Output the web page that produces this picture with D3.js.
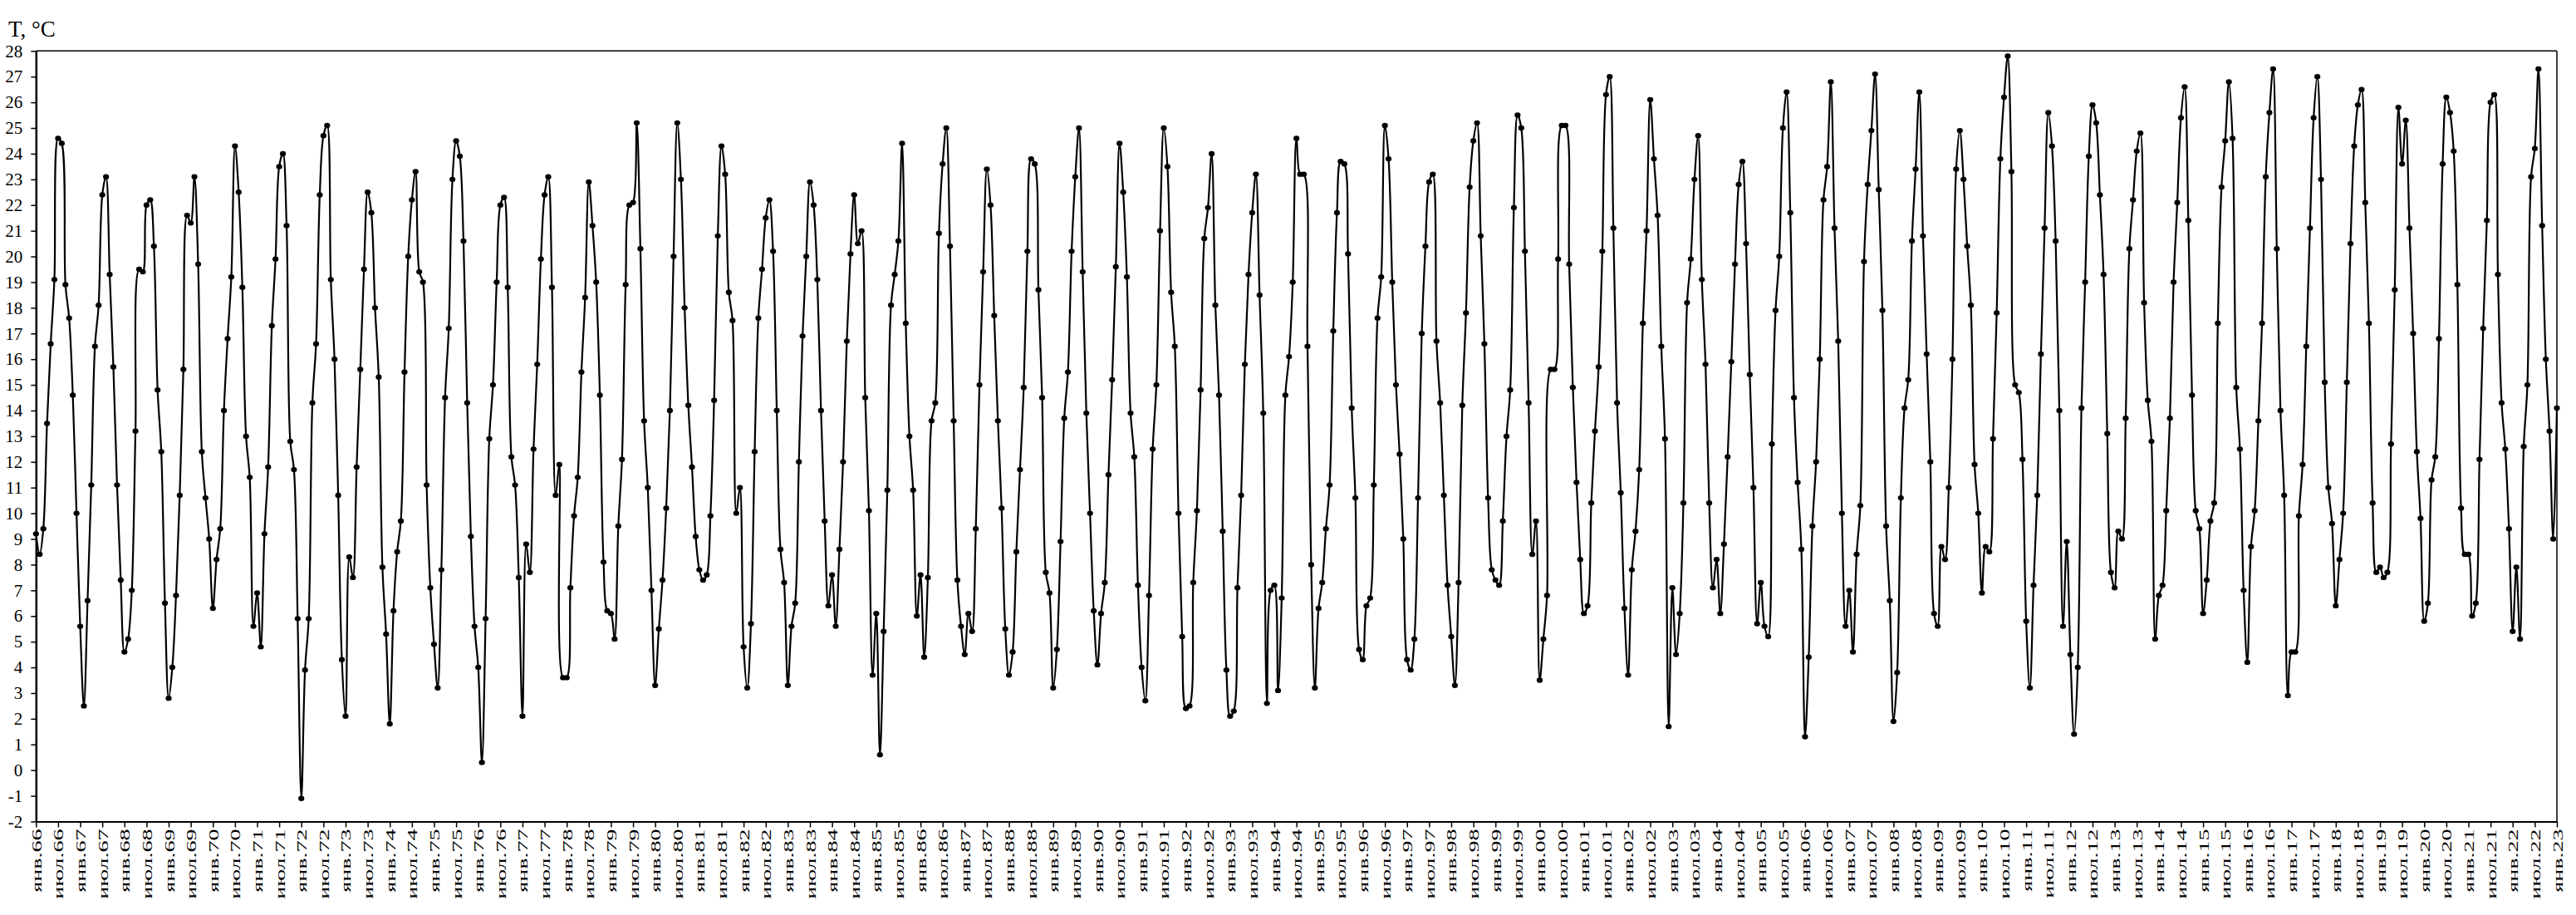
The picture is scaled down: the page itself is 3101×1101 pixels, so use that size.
<!DOCTYPE html>
<html><head><meta charset="utf-8">
<script src="https://cdn.jsdelivr.net/npm/d3@7"></script>
<style>
html,body{margin:0;padding:0;background:#fff;}
svg{display:block;}
text{font-family:"Liberation Serif","Times New Roman",serif;fill:#000;}
</style></head>
<body>
<svg id="chart" width="3101" height="1101"></svg>
<script>
// Monthly mean temperature, Jan 1966 .. Jan 2023
const startYear = 1966;
const temps = [
 9.2, 8.4, 9.4, 13.5, 16.6, 19.1, 24.6, 24.4, 18.9, 17.6, 14.6, 10.0,
 5.6, 2.5, 6.6, 11.1, 16.5, 18.1, 22.4, 23.1, 19.3, 15.7, 11.1, 7.4,
 4.6, 5.1, 7.0, 13.2, 19.5, 19.4, 22.0, 22.2, 20.4, 14.8, 12.4, 6.5,
 2.8, 4.0, 6.8, 10.7, 15.6, 21.6, 21.3, 23.1, 19.7, 12.4, 10.6, 9.0,
 6.3, 8.2, 9.4, 14.0, 16.8, 19.2, 24.3, 22.5, 18.8, 13.0, 11.4, 5.6,
 6.9, 4.8, 9.2, 11.8, 17.3, 19.9, 23.5, 24.0, 21.2, 12.8, 11.7, 5.9,
 -1.1, 3.9, 5.9, 14.3, 16.6, 22.4, 24.7, 25.1, 19.1, 16.0, 10.7, 4.3,
 2.1, 8.3, 7.5, 11.8, 15.6, 19.5, 22.5, 21.7, 18.0, 15.3, 7.9, 5.3,
 1.8, 6.2, 8.5, 9.7, 15.5, 20.0, 22.2, 23.3, 19.4, 19.0, 11.1, 7.1,
 4.9, 3.2, 7.8, 14.5, 17.2, 23.0, 24.5, 23.9, 20.6, 14.3, 9.1, 5.6,
 4.0, 0.3, 5.9, 12.9, 15.0, 19.0, 22.0, 22.3, 18.8, 12.2, 11.1, 7.5,
 2.1, 8.8, 7.7, 12.5, 15.8, 19.9, 22.4, 23.1, 18.8, 10.7, 11.9, 3.6,
 3.6, 7.1, 9.9, 11.4, 15.5, 18.4, 22.9, 21.2, 19.0, 14.6, 8.1, 6.2,
 6.1, 5.1, 9.5, 12.1, 18.9, 22.0, 22.1, 25.2, 20.3, 13.6, 11.0, 7.0,
 3.3, 5.5, 7.4, 10.2, 14.0, 20.0, 25.2, 23.0, 18.0, 14.2, 11.8, 9.1,
 7.8, 7.4, 7.6, 9.9, 14.4, 20.8, 24.3, 23.2, 18.6, 17.5, 10.0, 11.0,
 4.8, 3.2, 5.7, 12.4, 17.6, 19.5, 21.5, 22.2, 20.2, 14.0, 8.6, 7.3,
 3.3, 5.6, 6.5, 12.0, 16.9, 20.0, 22.9, 22.0, 19.1, 14.0, 9.7, 6.4,
 7.6, 5.6, 8.6, 12.0, 16.7, 20.1, 22.4, 20.5, 21.0, 14.5, 10.1, 3.7,
 6.1, 0.6, 5.4, 10.9, 18.1, 19.3, 20.6, 24.4, 17.4, 13.0, 10.9, 6.0,
 7.6, 4.4, 7.5, 13.6, 14.3, 20.9, 23.6, 25.0, 20.4, 13.6, 7.4, 5.6,
 4.5, 6.1, 5.4, 9.4, 15.0, 19.4, 23.4, 22.0, 17.7, 13.6, 10.2, 5.5,
 3.7, 4.6, 8.5, 11.7, 14.9, 20.2, 23.8, 23.6, 18.7, 14.5, 7.7, 6.9,
 3.2, 4.7, 8.9, 13.7, 15.5, 20.2, 23.1, 25.0, 19.4, 13.9, 10.0, 6.2,
 4.1, 6.1, 7.3, 11.5, 15.2, 19.6, 24.4, 22.5, 19.2, 13.9, 12.2, 7.2,
 4.0, 2.7, 6.8, 12.5, 15.0, 21.0, 25.0, 23.5, 18.6, 16.5, 10.0, 5.2,
 2.4, 2.5, 7.3, 10.1, 14.8, 20.7, 21.9, 24.0, 18.1, 14.6, 9.3, 3.9,
 2.1, 2.3, 7.1, 10.7, 15.8, 19.3, 21.7, 23.2, 18.5, 13.9, 2.6, 7.0,
 7.2, 3.1, 6.7, 14.6, 16.1, 19.0, 24.6, 23.2, 23.2, 16.5, 8.0, 3.2,
 6.3, 7.3, 9.4, 11.1, 17.1, 21.7, 23.7, 23.6, 20.1, 14.1, 10.6, 4.7,
 4.3, 6.4, 6.7, 11.1, 17.6, 19.2, 25.1, 23.8, 19.0, 15.0, 12.3, 9.0,
 4.3, 3.9, 5.1, 10.6, 17.0, 20.4, 22.9, 23.2, 16.7, 14.3, 10.7, 7.2,
 5.2, 3.3, 7.3, 14.2, 17.8, 22.7, 24.5, 25.2, 20.8, 16.6, 10.6, 7.8,
 7.4, 7.2, 9.7, 13.0, 14.8, 21.9, 25.5, 25.0, 20.2, 14.3, 8.4, 9.7,
 3.5, 5.1, 6.8, 15.6, 15.6, 19.9, 25.1, 25.1, 19.7, 14.9, 11.2, 8.2,
 6.1, 6.4, 10.4, 13.2, 15.7, 20.2, 26.3, 27.0, 21.1, 14.3, 10.8, 6.3,
 3.7, 7.8, 9.3, 11.7, 17.4, 21.0, 26.1, 23.8, 21.6, 16.5, 12.9, 1.7,
 7.1, 4.5, 6.1, 10.4, 18.2, 19.9, 23.0, 24.7, 19.1, 15.8, 10.4, 7.1,
 8.2, 6.1, 8.8, 12.2, 15.9, 19.7, 22.8, 23.7, 20.5, 15.4, 11.0, 5.7,
 7.3, 5.6, 5.2, 12.7, 17.9, 20.0, 25.0, 26.4, 21.7, 14.5, 11.2, 8.6,
 1.3, 4.4, 9.5, 12.0, 16.0, 22.2, 23.5, 26.8, 21.1, 16.7, 10.0, 5.6,
 7.0, 4.6, 8.4, 10.3, 19.8, 22.8, 24.9, 27.1, 22.6, 17.9, 9.5, 6.6,
 1.9, 3.8, 10.6, 14.1, 15.2, 20.6, 23.4, 26.4, 20.8, 16.2, 12.0, 6.1,
 5.6, 8.7, 8.2, 11.0, 16.0, 23.4, 24.9, 23.0, 20.4, 18.1, 11.9, 10.0,
 6.9, 8.7, 8.5, 12.9, 17.8, 23.8, 26.2, 27.8, 23.3, 15.0, 14.7, 12.1,
 5.8, 3.2, 7.2, 10.7, 16.2, 21.1, 25.6, 24.3, 20.6, 14.0, 5.6, 8.9,
 4.5, 1.4, 4.0, 14.1, 19.0, 23.9, 25.9, 25.2, 22.4, 19.3, 13.1, 7.7,
 7.1, 9.3, 9.0, 13.7, 20.3, 22.2, 24.1, 24.8, 18.2, 14.4, 12.8, 5.1,
 6.8, 7.2, 10.1, 13.7, 19.0, 22.1, 25.4, 26.6, 21.4, 14.6, 10.1, 9.4,
 6.1, 7.4, 9.7, 10.4, 17.4, 22.7, 24.5, 26.8, 24.6, 14.9, 12.5, 7.0,
 4.2, 8.7, 10.1, 13.6, 17.4, 23.1, 25.6, 27.3, 20.3, 14.0, 10.7, 2.9,
 4.6, 4.6, 9.9, 11.9, 16.5, 21.1, 25.4, 27.0, 23.0, 15.1, 11.0, 9.6,
 6.4, 8.2, 10.0, 15.1, 20.5, 24.3, 25.9, 26.5, 22.1, 17.4, 10.4, 7.7,
 7.9, 7.5, 7.7, 12.7, 18.7, 25.8, 23.6, 25.3, 21.1, 17.0, 12.4, 9.8,
 5.8, 6.5, 11.3, 12.2, 16.8, 23.6, 26.2, 25.6, 24.1, 18.9, 10.2, 8.4,
 8.4, 6.0, 6.5, 12.1, 17.2, 21.4, 26.0, 26.3, 19.3, 14.3, 12.5, 9.4,
 5.4, 7.9, 5.1, 12.6, 15.0, 23.1, 24.2, 27.3, 21.2, 16.0, 13.2, 9.0,
 14.1
];
const yTicks = d3.range(-2, 29, 1);
const monthNames = ["янв.", "июл."];
const yTitle = "T, °C";

// ---- layout ----
const svg = d3.select("#chart");
const X0 = 43.3, X1 = 3078, Y0 = 61.3, Y1 = 988.5;
const x = d3.scaleLinear().domain([0, temps.length - 1]).range([X0, X1]);
const y = d3.scaleLinear().domain([-2, 28]).range([Y1, Y0]);

// x tick values every 6 months with labels
const xTickIdx = d3.range(0, temps.length, 6);
const xLabel = i => monthNames[(i / 6) % 2] + String((startYear + Math.floor(i / 12)) % 100).padStart(2, "0");

// frame: top & right lines
svg.append("line").attr("x1", X0).attr("x2", X1).attr("y1", Y0).attr("y2", Y0)
  .attr("stroke", "#000").attr("stroke-width", 1.5);
svg.append("line").attr("x1", X1).attr("x2", X1).attr("y1", Y0).attr("y2", Y1)
  .attr("stroke", "#000").attr("stroke-width", 1.5);

// y axis
const yAxis = d3.axisLeft(y).tickValues(yTicks).tickSize(6).tickSizeOuter(0).tickPadding(10)
  .tickFormat(d3.format("d"));
const gy = svg.append("g").attr("transform", `translate(${X0},0)`).call(yAxis);
gy.select(".domain").attr("stroke", "#000").attr("stroke-width", 2.5);
gy.selectAll(".tick line").attr("stroke", "#000").attr("stroke-width", 1.5);
gy.selectAll(".tick text").attr("font-size", 21)
  .attr("font-family", '"Liberation Serif","Times New Roman",serif').text(d => d < 0 ? "-" + Math.abs(d) : d);

// x axis
const xAxis = d3.axisBottom(x).tickValues(xTickIdx).tickSize(7).tickSizeOuter(0).tickFormat("");
const gx = svg.append("g").attr("transform", `translate(0,${Y1})`).call(xAxis);
gx.select(".domain").attr("stroke", "#000").attr("stroke-width", 2);
gx.selectAll(".tick line").attr("stroke", "#000").attr("stroke-width", 1.5);
gx.selectAll(".tick text").remove();
gx.selectAll(".tick").append("text")
  .attr("text-anchor", "end")
  .attr("font-size", 17)
  .attr("transform", "translate(6,9) rotate(-90) scale(1.65,1)")
  .text(d => xLabel(d));

// title
svg.append("text").attr("x", 10).attr("y", 44).attr("font-size", 27).text(yTitle);

// line
const line = d3.line().x((d, i) => x(i)).y(d => y(d)).curve(d3.curveCatmullRom.alpha(0.5));
svg.append("path").datum(temps).attr("d", line)
  .attr("fill", "none").attr("stroke", "#000").attr("stroke-width", 2.2);

// markers
svg.append("g").selectAll("ellipse").data(temps).join("ellipse")
  .attr("cx", (d, i) => x(i)).attr("cy", d => y(d))
  .attr("rx", 3.6).attr("ry", 3.2).attr("fill", "#000");
</script>
</body></html>
